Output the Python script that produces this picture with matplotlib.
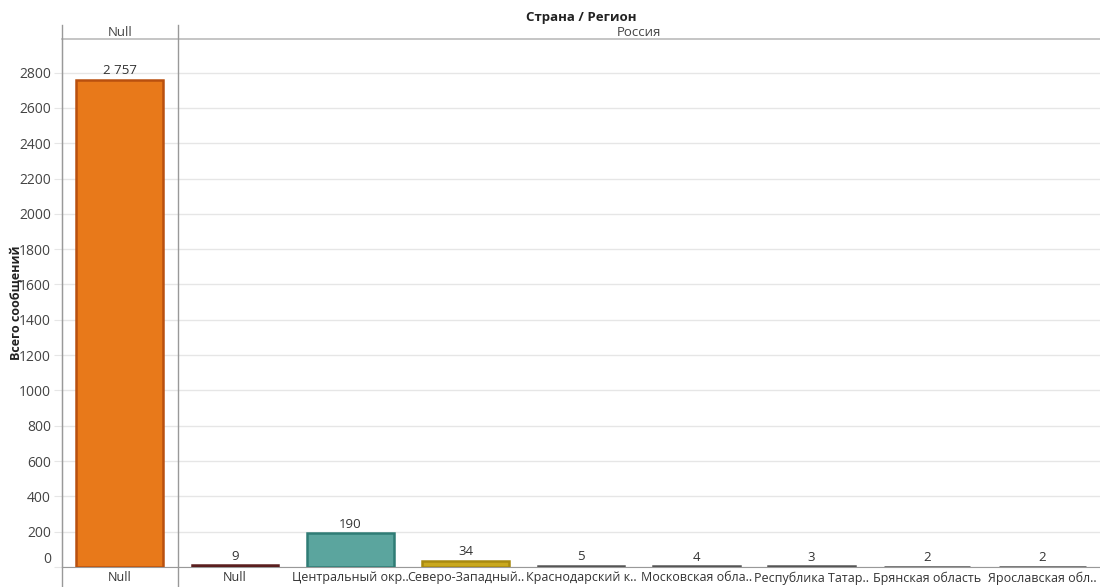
import matplotlib.pyplot as plt

plt.rcParams['font.family'] = ['Open Sans', 'DejaVu Sans']

# data
countries = ['Null', 'Россия']
regions = ['Null', 'Null', 'Центральный окр..', 'Северо-Западный..', 'Краснодарский к..',
           'Московская обла..', 'Республика Татар..', 'Брянская область', 'Ярославская обл..']
values = [2757, 9, 190, 34, 5, 4, 3, 2, 2]
value_labels = ['2 757', '9', '190', '34', '5', '4', '3', '2', '2']
y_ticks = list(range(0, 2801, 200))

face_colors = ['#E8791A', '#6E2B2B', '#5BA59E', '#C9A81E', '#6E6E6E', '#6E6E6E', '#6E6E6E', '#6E6E6E', '#6E6E6E']
edge_colors = ['#B9500F', '#5A1E1E', '#2F7C75', '#A88A10', '#555555', '#555555', '#555555', '#555555', '#555555']

W, H = 1100, 587
fig = plt.figure(figsize=(W / 100, H / 100), dpi=100)
left, right, top, bottom = 62, 1100, 39, 567
ax = fig.add_axes([left / W, (H - bottom) / H, (right - left) / W, (bottom - top) / H])

x = list(range(len(values)))
ax.bar(x, values, width=0.75, color=face_colors, edgecolor=edge_colors, linewidth=1.8, zorder=3)

for xi, v, lab in zip(x, values, value_labels):
    ax.annotate(lab, (xi, v), xytext=(0, 2), textcoords='offset points', ha='center', va='bottom',
                fontsize=9.5, color='#333333', zorder=4)

ax.set_xlim(-0.5, len(values) - 0.5)
ax.set_ylim(0, 2990)
ax.set_yticks(y_ticks)
ax.set_yticklabels([str(t) for t in y_ticks], fontsize=10, color='#444444')
ax.tick_params(axis='y', length=6, color='#e6e6e6', pad=2)
ax.tick_params(axis='x', length=0)
ax.set_xticks(x)
ax.set_xticklabels(regions, fontsize=9, color='#333333')
ax.tick_params(axis='x', pad=3)
for lbl in ax.get_yticklabels()[:1]:
    lbl.set_va('bottom')

ax.grid(axis='y', color='#e6e6e6', linewidth=1, zorder=0)
for s in ['top', 'right']:
    ax.spines[s].set_visible(False)
ax.spines['left'].set_color('#999999')
ax.spines['bottom'].set_color('#999999')

ax.set_ylabel('Всего сообщений', fontsize=9, fontweight='bold', color='#222222')
ax.yaxis.set_label_coords(-(62 - 22) / (right - left), 0.5)

# panel separators and header
sep_x = (178 - left) / (right - left)
for xf in [0, sep_x]:
    ax.plot([xf, xf], [-0.04, 1.027], transform=ax.transAxes, color='#999999', lw=1, clip_on=False, zorder=5)
ax.plot([0, 1], [1, 1], transform=ax.transAxes, color='#bbbbbb', lw=1.2, clip_on=False)

fig.text((left + 178) / 2 / W, 1 - 32 / H, countries[0], ha='center', va='center', fontsize=9.5, color='#444444')
fig.text((178 + right) / 2 / W, 1 - 32 / H, countries[1], ha='center', va='center', fontsize=9.5, color='#444444')
fig.text((left + right) / 2 / W, 1 - 18 / H, 'Страна / Регион', ha='center', va='center', fontsize=9.5,
         fontweight='bold', color='#222222')

fig.savefig('out.png', dpi=100)
